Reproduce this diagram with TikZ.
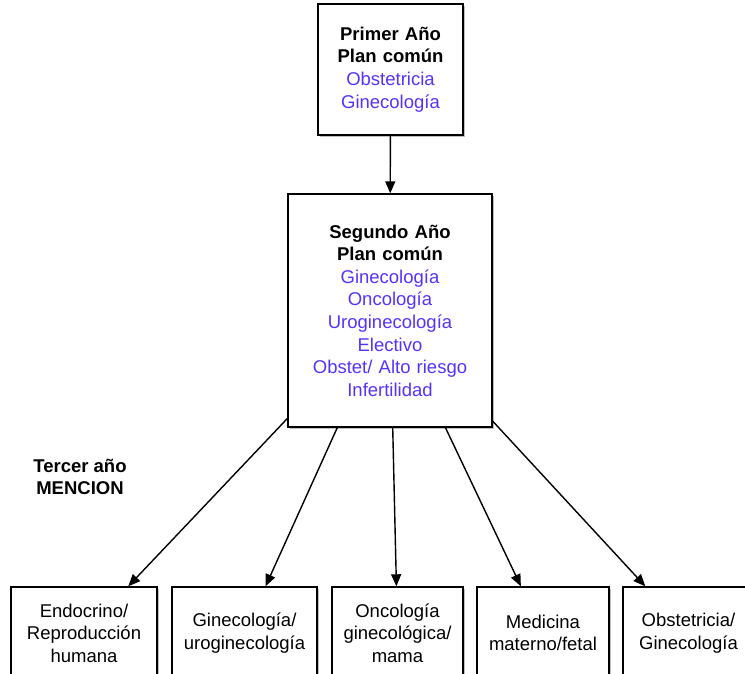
\documentclass[tikz,border=0pt]{standalone}
\usepackage{fontspec}
\setmainfont{Liberation Sans}
\usetikzlibrary{arrows.meta,shadows}
\definecolor{curso}{RGB}{85,51,255}

\tikzset{
  % ----- cajas del plan
  caja/.style={
    rectangle, draw=black, line width=1.4pt, fill=white,
    align=center, inner xsep=0pt, inner ysep=0pt,
    drop shadow={shadow xshift=2pt, shadow yshift=-2pt, fill=black!45, opacity=0.55}
  },
  % ----- textos
  titulo/.style = {font=\fontsize{18.5}{22.6}\selectfont\bfseries},
  flecha/.style = {-{Triangle[length=12pt,width=10pt]}, line width=1.4pt}
}

\begin{document}
\begin{tikzpicture}[
                x = 1pt, y = 1pt, % un punto por pixel
                font = \fontsize{18.5}{22.6}\selectfont
            ]
        \useasboundingbox (0,0) rectangle (745,-674);

        % primer y segundo año
        \node[caja, text width=145pt, minimum height=131pt] (primer) at (390.5,-69.5)
            {\textbf{Primer Año}\\\textbf{Plan común}\\{\color{curso}Obstetricia\\Ginecología}};
        \node[caja, text width=204pt, minimum height=233pt] (segundo) at (390,-310.5)
            {\textbf{Segundo Año}\\\textbf{Plan común}\\{\color{curso}Ginecología\\Oncología\\Uroginecología\\Electivo\\Obstet/ Alto riesgo\\Infertilidad}};
        \path[flecha] (primer) edge (segundo);

        % tercer año
        \node[titulo, align=center] (tercer) at (80,-477) {Tercer año\\MENCION};
        \node[caja, text width=146pt, minimum height=92pt] (mencion1) at (84,-633)
            {Endocrino/\\Reproducción\\humana};
        \node[caja, text width=145pt, minimum height=92pt] (mencion2) at (244.5,-633)
            {Ginecología/\\uroginecología};
        \node[caja, text width=131pt, minimum height=92pt] (mencion3) at (397.5,-633)
            {Oncología\\ginecológica/\\mama};
        \node[caja, text width=132pt, minimum height=92pt] (mencion4) at (543,-633)
            {Medicina\\materno/fetal};
        \node[caja, text width=131pt, minimum height=92pt] (mencion5) at (688.5,-633)
            {Obstetricia/\\Ginecología};

        % del segundo año a cada mencion
        \foreach \k in {1,...,5}{
            \path[flecha] (segundo) edge (mencion\k);
        }
    \end{tikzpicture}
\end{document}
